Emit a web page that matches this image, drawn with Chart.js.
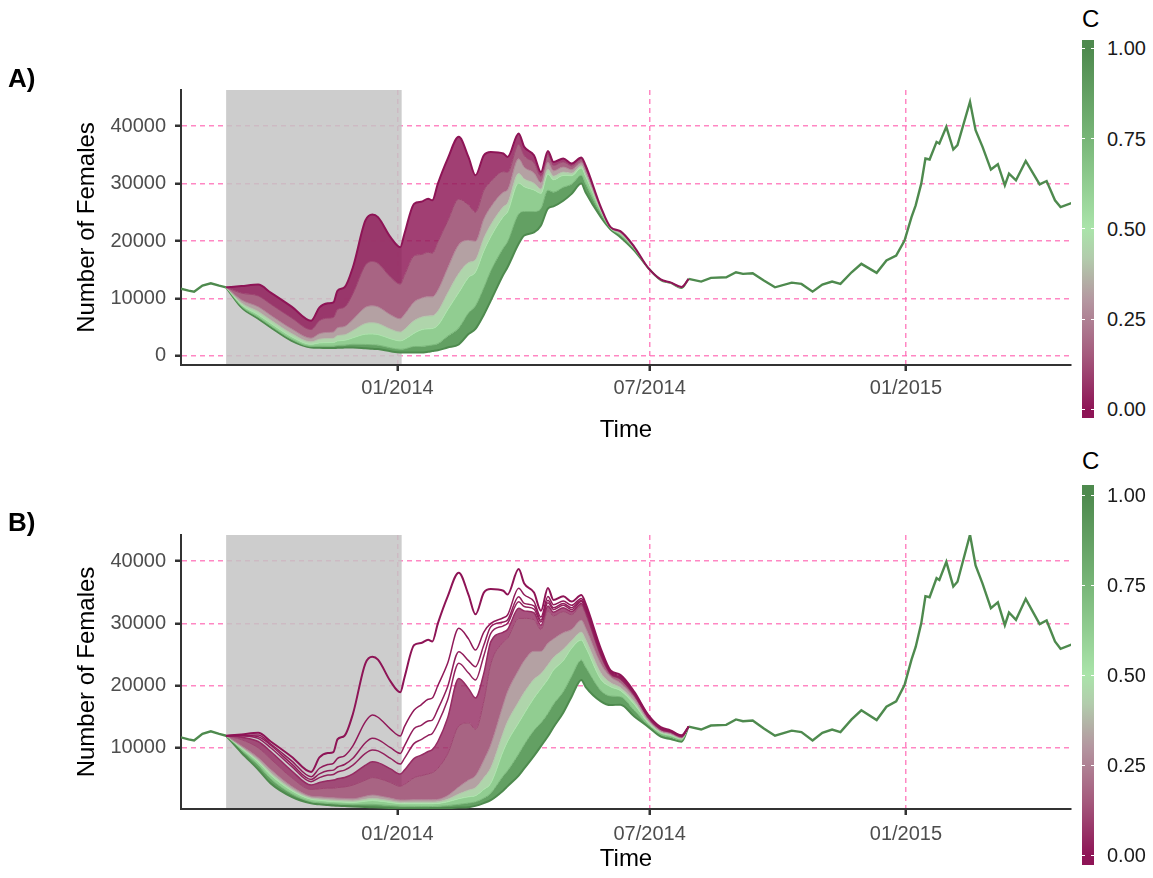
<!DOCTYPE html>
<html>
<head>
<meta charset="utf-8">
<script src="https://cdn.jsdelivr.net/npm/chart.js@4.4.1/dist/chart.umd.min.js"></script>
<style>
  html, body { margin: 0; padding: 0; background: #fff; }
  #page { position: relative; width: 1153px; height: 878px; overflow: hidden; font-family: 'Liberation Sans', Arial, sans-serif; }
  .panel { position: absolute; left: 0; width: 1080px; }
  .tag { position: absolute; left: 8px; font-weight: bold; font-size: 26px; line-height: 26px; color: #000; }
  .ctitle { position: absolute; left: 1082px; font-size: 24px; line-height: 24px; color: #000; }
  .bar { position: absolute; left: 1082px; width: 12px; }
  .lab { position: absolute; left: 1107px; font-size: 20px; line-height: 20px; color: #1a1a1a; }
  .tk { position: absolute; width: 3px; height: 1px; background: #fff; }
</style>
</head>
<body>
<div id="page">
  <div class="panel" style="top:0;height:450px"><canvas id="chartA" width="1080" height="450"></canvas></div>
  <div class="panel" style="top:445px;height:433px"><canvas id="chartB" width="1080" height="433"></canvas></div>
  <div class="tag" style="top:65px">A)</div>
  <div class="tag" style="top:509px">B)</div>
  <div id="legA"></div>
  <div id="legB"></div>
</div>
<script>
// x values are days counted from 1 Jan 2014
const xTickDays = [0, 181, 365];
const xTickLabels = ['01/2014', '07/2014', '01/2015'];
const yTicksA = [0, 10000, 20000, 30000, 40000];
const yTicksB = [10000, 20000, 30000, 40000];
const shadeStart = -123;
const shadeEnd = 3;
const legendTicks = [0, 0.25, 0.5, 0.75, 1];

// single line before the shaded period
const trunkDays = [-156, -150, -146, -140, -134, -128, -123];
const trunkVals = [11700, 11350, 11180, 12230, 12630, 12230, 11930];

// single line once all curves have merged
const tailDays = [209, 218, 225, 236, 243, 248, 255, 263, 271, 283, 290, 298, 305, 312, 318, 326, 333, 344, 351, 358,
  364, 369, 372, 376, 379, 382, 387, 389, 394, 399, 402, 411, 415, 420, 426, 431, 436, 439, 444, 451, 461, 466, 472, 476, 484];
const tailVals = [13400, 12930, 13570, 13680, 14550, 14270, 14380, 13100, 11930, 12750, 12520, 11180, 12400, 12930, 12520, 14550, 16020, 14450, 16600, 17470,
  20090, 24160, 26200, 29990, 34360, 34190, 37260, 36980, 39880, 35930, 36690, 44250, 39300, 36390, 32440, 33370, 29700, 31740, 30570, 33940, 29870, 30450, 27080, 25910, 26610];

// the family of curves, one value per grid day
const gridDays = [-123, -112, -100, -91, -76, -62, -56, -50, -46, -43, -38, -32, -23, -18, -14, -5, 2, 5, 12, 17,
  22, 25, 29, 36, 44, 51, 56, 62, 67, 76, 79, 87, 91, 98, 103, 108, 112, 119, 125, 132,
  135, 146, 153, 160, 170, 180, 189, 196, 204, 209];

// C = 0 (same in both panels)
const topC0 = [11930, 12140, 12400, 11000, 8560, 6110, 8440, 9140, 9310, 11360, 11930, 15430, 23580, 24630, 24160, 20670, 18920, 21260, 26500, 26820,
  27370, 27080, 30000, 34300, 38140, 34590, 31450, 34940, 35520, 35240, 34640, 38730, 36390, 34940, 32020, 35690, 33770, 34360, 33490, 34540,
  33190, 25910, 22410, 21720, 18990, 15300, 13300, 12800, 12000, 13400];

// panel A
const a10 = [11930, 10920, 10440, 9000, 6600, 4570, 6120, 6570, 6680, 8070, 8470, 10820, 15790, 16440, 16110, 13710, 12500, 14020, 17430, 17640,
  18040, 17890, 19840, 23460, 27290, 26270, 25030, 28830, 30340, 32080, 31950, 36810, 34850, 33600, 31280, 34890, 33150, 33770, 33070, 34180,
  32810, 25770, 22370, 21620, 18930, 15300, 13280, 12780, 11980, 13400];
const a25 = [11930, 9740, 8540, 7060, 4700, 3080, 3860, 4080, 4140, 4890, 5110, 6340, 8440, 8710, 8530, 7150, 6450, 7200, 9390, 10030,
  10300, 10270, 11410, 15250, 19330, 20110, 19950, 23830, 25940, 28490, 28880, 34310, 32840, 31850, 30160, 33680, 32220, 32890, 32430, 33630,
  32250, 25560, 22310, 21460, 18830, 15300, 13260, 12760, 11950, 13400];
const a40 = [11930, 9220, 7720, 6230, 3880, 2440, 2900, 3010, 3040, 3520, 3660, 4410, 5630, 5760, 5630, 4650, 4140, 4600, 6130, 6720,
  6940, 6960, 7760, 10910, 14340, 16230, 16740, 20490, 22830, 25960, 26580, 31770, 30810, 30070, 29040, 32470, 31290, 32010, 31800, 33090,
  31690, 25350, 22260, 21330, 18750, 15300, 13250, 12750, 11920, 13400];
const a50 = [11930, 8880, 7170, 5670, 3330, 2010, 2250, 2290, 2310, 2600, 2690, 3130, 3760, 3800, 3700, 2980, 2600, 2860, 3950, 4520,
  4700, 4760, 5320, 8020, 11010, 13650, 14600, 18270, 20760, 24270, 25040, 30080, 29450, 28890, 28300, 31670, 30670, 31420, 31380, 32720,
  31310, 25210, 22230, 21250, 18700, 15300, 13240, 12740, 11900, 13400];
const a75 = [11930, 8590, 6700, 5180, 2860, 1640, 1680, 1660, 1670, 1800, 1850, 2010, 1980, 1920, 1860, 1390, 1130, 1200, 1620, 1630,
  1770, 1870, 2120, 3420, 4860, 7490, 8710, 11880, 14800, 18790, 19850, 24700, 25130, 25120, 25690, 28850, 28510, 29360, 29900, 31450,
  29990, 24720, 22130, 20990, 18540, 15300, 13220, 12720, 11860, 13400];
const a100 = [11930, 8440, 6460, 4940, 2620, 1450, 1400, 1350, 1350, 1400, 1430, 1450, 1310, 1220, 1170, 790, 580, 580, 580, 580,
  700, 820, 960, 1450, 1970, 3790, 4700, 7160, 9620, 14150, 15430, 19510, 20960, 21490, 22710, 25630, 26030, 27010, 28210, 30000,
  28480, 24160, 22010, 20670, 18340, 15300, 13200, 12700, 11820, 13400];

// panel B
const b01 = [11930, 12000, 12040, 10600, 7900, 5340, 6700, 7300, 7500, 8300, 8700, 10300, 14200, 15260, 14900, 13000, 11880, 13400, 16060, 16900,
  17800, 18000, 20000, 23570, 29190, 27500, 25710, 28600, 29990, 30900, 31340, 35630, 34600, 33500, 31000, 34300, 33000, 33600, 32900, 34000,
  32700, 25500, 22200, 21500, 18800, 15200, 13200, 12700, 11950, 13400];
const b02 = [11930, 11950, 11770, 10400, 7400, 4910, 5800, 6300, 6400, 6900, 7300, 8300, 10800, 11510, 11300, 10000, 9090, 10300, 13100, 13600,
  14300, 14450, 16200, 19810, 25440, 24000, 23030, 26500, 29460, 30200, 30530, 34290, 33210, 32800, 30500, 33700, 32500, 33200, 32500, 33700,
  32400, 25300, 22100, 21300, 18700, 15100, 13100, 12650, 11900, 13400];
const b03 = [11930, 11900, 11500, 10000, 7000, 4540, 5200, 5600, 5700, 6100, 6400, 7200, 9100, 9630, 9500, 8300, 7380, 8300, 10700, 11300,
  12000, 12300, 13900, 17670, 23570, 22000, 20890, 24800, 28390, 29600, 29990, 33480, 32700, 32300, 30200, 33300, 32200, 32900, 32200, 33500,
  32200, 25100, 22000, 21200, 18600, 15000, 13050, 12600, 11850, 13400];
const b05 = [11930, 11700, 11000, 9400, 6300, 4000, 4400, 4700, 4800, 5000, 5200, 5800, 7200, 7750, 7600, 6600, 5770, 6400, 8300, 8800,
  9400, 9700, 11000, 14800, 21150, 19500, 18000, 22000, 27050, 28600, 29000, 32410, 32000, 31700, 29700, 32800, 31800, 32500, 31900, 33200,
  31900, 24900, 21900, 21100, 18500, 14900, 13000, 12550, 11800, 13400];
const b10 = [11930, 11300, 10000, 8200, 5200, 3300, 3400, 3500, 3500, 3600, 3700, 4000, 4800, 5200, 5100, 4400, 3800, 4100, 5200, 5500,
  5800, 6000, 6700, 9000, 13500, 14000, 13000, 17500, 23500, 27000, 27600, 30800, 30800, 30600, 29000, 32000, 31200, 31900, 31400, 32800,
  31500, 24700, 21800, 21000, 18400, 14800, 12900, 12450, 11700, 13400];
const b25 = [11930, 10300, 8400, 6500, 3800, 2200, 2100, 2000, 1950, 1900, 1850, 1800, 2200, 2400, 2300, 1900, 1600, 1600, 1650, 1650,
  1650, 1650, 1700, 2300, 3700, 4800, 5500, 8000, 10500, 17000, 19000, 22500, 24000, 25500, 25500, 26800, 27500, 28500, 29000, 30500,
  29300, 23500, 21400, 20400, 18000, 14500, 12700, 12300, 11600, 13400];
const b40 = [11930, 10060, 7980, 5960, 3380, 1900, 1770, 1640, 1590, 1540, 1490, 1440, 1720, 1860, 1790, 1480, 1240, 1240, 1260, 1260,
  1260, 1260, 1310, 1700, 2560, 3180, 3580, 5180, 6780, 12500, 14200, 17400, 18900, 21000, 21900, 23320, 24500, 25800, 27200, 28580,
  27440, 22000, 20440, 19680, 17400, 14200, 12520, 12120, 11480, 13400];
const b50 = [11930, 9900, 7700, 5600, 3100, 1700, 1550, 1400, 1350, 1300, 1250, 1200, 1400, 1500, 1450, 1200, 1000, 1000, 1000, 1000,
  1000, 1000, 1050, 1300, 1800, 2100, 2300, 3300, 4300, 9500, 11000, 14000, 15500, 18000, 19500, 21000, 22500, 24000, 26000, 27300,
  26200, 21000, 19800, 19200, 17000, 14000, 12400, 12000, 11400, 13400];
const b75 = [11930, 9600, 7200, 5000, 2600, 1300, 1150, 1050, 1000, 950, 900, 850, 900, 900, 850, 700, 600, 580, 560, 550,
  550, 550, 580, 700, 900, 1100, 1300, 1900, 2700, 5500, 6300, 9000, 10500, 12800, 14000, 15500, 17000, 19000, 21500, 24100,
  23000, 19200, 18300, 18200, 16000, 13700, 12100, 11700, 11200, 13400];
const b100 = [11930, 9200, 6500, 4270, 2120, 1060, 900, 790, 700, 680, 620, 550, 480, 420, 380, 300, 250, 250, 250, 250,
  250, 260, 270, 300, 380, 450, 650, 1100, 1580, 3140, 3790, 5510, 6670, 8690, 10270, 11840, 13300, 15630, 18200, 20890,
  19800, 17460, 16860, 16920, 15030, 13350, 11770, 11400, 10960, 13400];

const cA = [0, 0.1, 0.25, 0.4, 0.5, 0.75, 1];
const seriesA = [topC0, a10, a25, a40, a50, a75, a100];
const cB = [0, 0.01, 0.02, 0.03, 0.05, 0.1, 0.25, 0.4, 0.5, 0.75, 1];
const seriesB = [topC0, b01, b02, b03, b05, b10, b25, b40, b50, b75, b100];

// colour scale for C
const colourStops = [
  [0, [142, 20, 86]], [0.15, [165, 90, 125]], [0.3, [180, 150, 160]], [0.42, [178, 204, 172]],
  [0.5, [170, 228, 170]], [0.75, [120, 182, 120]], [1, [78, 138, 78]]
];
function colourAt(c, a) {
  let i = 0;
  while (i < colourStops.length - 2 && c > colourStops[i + 1][0]) i++;
  const [c0, p] = colourStops[i], [c1, q] = colourStops[i + 1];
  const t = Math.min(1, Math.max(0, (c - c0) / (c1 - c0)));
  const rgb = p.map((v, k) => Math.round(v + (q[k] - v) * t));
  return 'rgba(' + rgb.join(',') + ',' + (a === undefined ? 1 : a) + ')';
}

Chart.defaults.font.family = "'Liberation Sans', Arial, sans-serif";

const shadePlugin = {
  id: 'shade',
  beforeDatasetsDraw(chart) {
    const {ctx, chartArea, scales: {x}} = chart;
    const x0 = x.getPixelForValue(shadeStart), x1 = x.getPixelForValue(shadeEnd);
    ctx.save();
    ctx.fillStyle = 'rgba(196,196,196,0.85)';
    ctx.fillRect(x0, chartArea.top, x1 - x0, chartArea.bottom - chartArea.top - 1);
    ctx.restore();
  }
};

function familySets(cs, series, firstFilled) {
  return series.map((vals, i) => {
    const filled = i >= firstFilled;
    const lo = filled ? cs[i - 1] : 0;
    const mid = lo < 0.1 ? lo + 0.02 : (lo + cs[i]) / 2;
    return {
      data: gridDays.map((d, k) => ({x: d, y: vals[k]})),
      borderColor: colourAt(cs[i]),
      borderWidth: (i === 0 || i === series.length - 1) ? 2 : (cs[i] <= 0.05 ? 1.5 : 1),
      cubicInterpolationMode: 'monotone',
      fill: filled ? '-1' : false,
      backgroundColor: filled ? colourAt(mid, lo < 0.1 ? 0.85 : 1) : 'transparent'
    };
  });
}

function singleSet(days, vals) {
  return {
    data: days.map((d, k) => ({x: d, y: vals[k]})),
    borderColor: colourAt(1), borderWidth: 2.4, fill: false
  };
}

function makeChart(id, datasets, yMin, yMax, yTicks, xAxisH, xPad, titlePad) {
  const grid = {color: 'rgba(255,105,180,0.8)', lineWidth: 1.5, borderDash: [5, 4],
    tickColor: '#333', tickWidth: 2.5, tickLength: 6};
  const border = {display: true, color: '#333', width: 2, dash: [5, 4]};
  return new Chart(document.getElementById(id), {
    type: 'line',
    data: {datasets: datasets},
    options: {
      responsive: false,
      animation: false,
      devicePixelRatio: 1,
      layout: {padding: {top: 90, right: 9, left: 0, bottom: 0}},
      elements: {point: {radius: 0}, line: {tension: 0}},
      plugins: {legend: {display: false}, tooltip: {enabled: false}},
      scales: {
        x: {
          type: 'linear', min: -155.4, max: 483.5,
          afterBuildTicks: s => { s.ticks = xTickDays.map(v => ({value: v})); },
          afterFit: s => { s.height = xAxisH; },
          ticks: {callback: (v, i) => xTickLabels[i], color: '#4d4d4d', font: {size: 20},
            padding: xPad, maxRotation: 0, autoSkip: false},
          grid: grid, border: border,
          title: {display: true, text: 'Time', color: '#000', font: {size: 24}, padding: {top: 0, bottom: titlePad}}
        },
        y: {
          min: yMin, max: yMax,
          afterBuildTicks: s => { s.ticks = yTicks.map(v => ({value: v})); },
          afterFit: s => { s.width = 181; },
          ticks: {callback: v => String(v), color: '#4d4d4d', font: {size: 20}, padding: 9},
          grid: grid, border: border,
          title: {display: true, text: 'Number of Females', color: '#000', font: {size: 24}, padding: {top: 73, bottom: 0}}
        }
      }
    },
    plugins: [shadePlugin]
  });
}

makeChart('chartA',
  familySets(cA, seriesA, 1).concat([singleSet(trunkDays, trunkVals), singleSet(tailDays, tailVals)]),
  -1600, 46300, yTicksA, 85, 5, 5.6);
makeChart('chartB',
  familySets(cB, seriesB, 5).concat([singleSet(trunkDays, trunkVals), singleSet(tailDays, tailVals)]),
  150, 44200, yTicksB, 69, 7, 4);

function buildLegend(hostId, barTop, barH, tickTop, tickBottom, titleTop) {
  const host = document.getElementById(hostId);
  const yOf = c => tickBottom - c * (tickBottom - tickTop);
  const stops = colourStops.map(([c]) =>
    colourAt(c) + ' ' + ((barTop + barH - yOf(c)) / barH * 100).toFixed(2) + '%');
  let html = '<div class="ctitle" style="top:' + titleTop + 'px">C</div>';
  html += '<div class="bar" style="top:' + barTop + 'px;height:' + barH + 'px;background:linear-gradient(to top,' + stops.join(',') + ')"></div>';
  legendTicks.forEach(c => {
    const y = yOf(c);
    html += '<div class="tk" style="left:1082px;top:' + (y - 0.5) + 'px"></div>';
    html += '<div class="tk" style="left:1091px;top:' + (y - 0.5) + 'px"></div>';
    html += '<div class="lab" style="top:' + (y - 10) + 'px">' + c.toFixed(2) + '</div>';
  });
  host.innerHTML = html;
}
buildLegend('legA', 40, 378, 48.3, 409.3, 7);
buildLegend('legB', 485, 380, 495, 855, 449);
</script>
</body>
</html>
